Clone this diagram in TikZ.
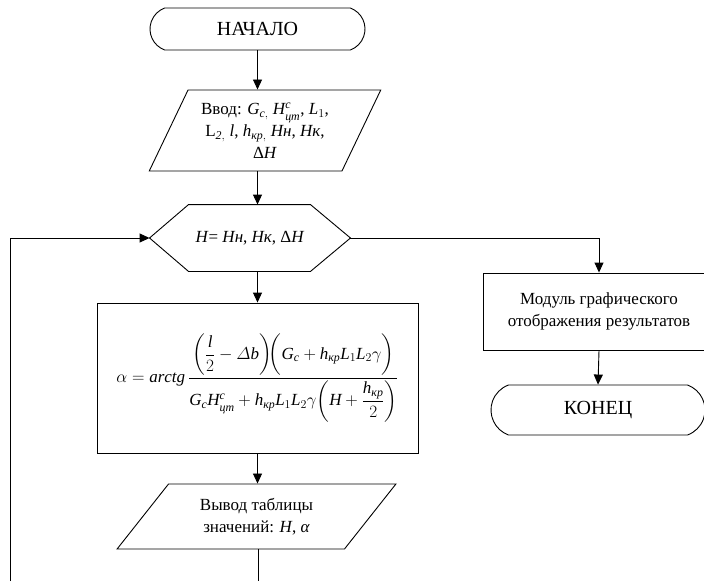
\documentclass[tikz,border=0pt]{standalone}
\usepackage{amsmath}
\usepackage{fontspec}
\setmainfont{Liberation Serif}[Ligatures=TeX]
\usetikzlibrary{shapes.geometric,shapes.misc,arrows.meta}

\newcommand{\cyr}[1]{\text{\itshape #1}}

\tikzset{
  base/.style = {line width=0.9pt, align=center, inner sep=2pt,
                 font=\fontsize{17}{22}\selectfont},
  term/.style = {base, draw, rounded rectangle, rounded rectangle arc length=140,
                 font=\fontsize{20}{24}\selectfont},
  io/.style   = {base, draw, trapezium, trapezium stretches},
  proc/.style = {base, draw, rectangle},
  prep/.style = {base, rectangle},
  line/.style = {line width=0.9pt},
  arr/.style  = {line, -{Triangle[length=10pt,width=9pt]}}
}

\begin{document}
\begin{tikzpicture}[x=1pt, y=-1pt]
  \useasboundingbox (0,0) rectangle (704,581);

  \node[term, minimum width=219, minimum height=42] (st) at (257.5,29) {НАЧАЛО};

  \node[io, trapezium left angle=61, trapezium right angle=119,
        minimum width=232, minimum height=81] (in) at (265,130.5)
    {Ввод: $\mathit{G}_{\mathit{c},}$ $\mathit{H}^{\mathit{c}}_{\mathstrut\cyr{цт}}$, $\mathit{L}_1$,\\
     L$_{\mathit{2},}$ $\mathit{l}$, $\mathit{h}_{\cyr{кр},}$ \textit{Hн}, \textit{Hк},\\
     Δ\textit{H}};

  % hexagon: text node, outline drawn below
  \node[prep, minimum width=200, minimum height=66] (hx) at (250,238)
    {\textit{H}= \textit{Hн}, \textit{Hк}, Δ\textit{H}};
  \draw[line] (hx.west) -- ([xshift=39]hx.north west) -- ([xshift=-40]hx.north east)
    -- (hx.east) -- ([xshift=-40]hx.south east) -- ([xshift=39]hx.south west) -- cycle;

  \node[proc, minimum width=321, minimum height=150] (fm) at (257.5,378)
    {$\alpha=\mathit{arctg}\,\dfrac{\left(\dfrac{\mathit{l}}{2}-\varDelta \mathit{b}\right)\!\!
      \left(\vphantom{\dfrac{\mathit{l}}{2}}\mathit{G}_{\mathit{c}}+\mathit{h}_{\cyr{кр}}\mathit{L}_1\mathit{L}_2\gamma\right)}
     {\mathit{G}_{\mathit{c}}\mathit{H}^{\mathit{c}}_{\mathstrut\cyr{цт}}+\mathit{h}_{\cyr{кр}}\mathit{L}_1\mathit{L}_2\gamma\!
      \left(\mathit{H}+\dfrac{\mathit{h}_{\cyr{кр}}}{2}\right)}$};

  \node[io, trapezium left angle=50, trapezium right angle=130,
        minimum width=279, minimum height=65] (out) at (256.5,516.5)
    {Вывод таблицы\\значений: \textit{H}, \textit{α}};

  \node[proc, minimum width=232, minimum height=77] (md) at (599,311.5)
    {Модуль графического\\отображения результатов};

  \node[term, minimum width=218, minimum height=50] (en) at (598,410) {КОНЕЦ};

  \coordinate (lp) at (10,581);
  \coordinate (ob) at (258,581);

  \draw[arr] (st.south) -- (st.south |- in.north);
  \draw[arr] (st.south |- in.south) -- (st.south |- hx.north);
  \draw[arr] (st.south |- hx.south) -- (st.south |- fm.north);
  \draw[arr] (st.south |- fm.south) -- (st.south |- out.north);
  \draw[line] (ob |- out.south) -- (ob);
  \draw[arr] (lp) |- (hx.west);
  \draw[arr] (hx.east) -| (md.north);
  \draw[arr] (md.south) -- (en.north);
\end{tikzpicture}
\end{document}
